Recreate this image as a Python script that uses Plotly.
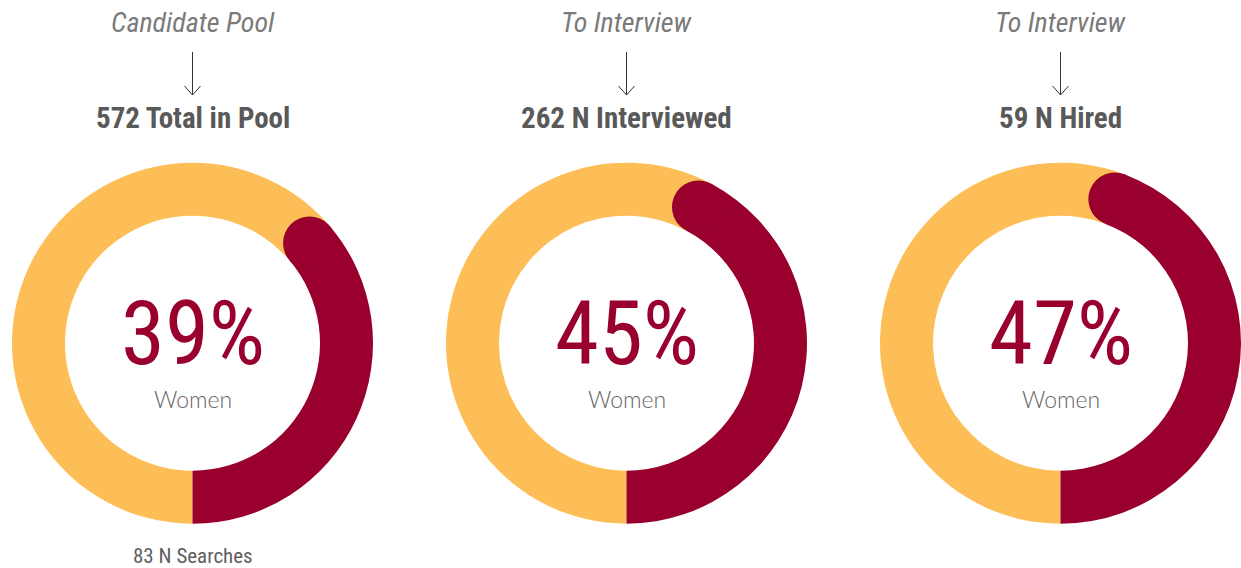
import math
import plotly.graph_objects as go

# ---- data ----
stage_titles = ["Candidate Pool", "To Interview", "To Interview"]
stage_counts = [572, 262, 59]
stage_count_labels = ["Total in Pool", "N Interviewed", "N Hired"]
women_pct = [39, 45, 47]
searches = 83

# ---- styling ----
W, H = 1241, 568
RED = "#99002E"
GOLD = "#FDBE57"
GREY_TEXT = "#5f5f5f"
NARROW = "Liberation Sans Narrow, Roboto Condensed, Roboto, sans-serif"

centers_x = [192.5, 626.5, 1060.5]
center_y = 343.2
r_outer = 180.5
r_inner = 127.5
r_mid = (r_outer + r_inner) / 2
r_cap = (r_outer - r_inner) / 2
cap_pct = math.degrees(r_cap / r_mid) / 3.6  # arc share taken by the rounded end

fig = go.Figure()
shapes = []
annotations = []

for cx, pct, title, n, nlabel in zip(centers_x, women_pct, stage_titles,
                                     stage_counts, stage_count_labels):
    # donut drawn clockwise from 6 o'clock: gold first, red last so the red
    # arc rises up the right side; its body stops where the round cap begins
    body = pct - cap_pct
    fig.add_trace(go.Pie(
        values=[100 - body, body],
        marker=dict(colors=[GOLD, RED], line=dict(width=0)),
        hole=r_inner / r_outer,
        sort=False,
        direction="clockwise",
        rotation=180,
        textinfo="none",
        hoverinfo="skip",
        showlegend=False,
        domain=dict(
            x=[(cx - r_outer) / W, (cx + r_outer) / W],
            y=[(H - center_y - r_outer) / H, (H - center_y + r_outer) / H],
        ),
    ))

    # rounded cap at the end of the red arc
    ang = math.radians(180 - body * 3.6)  # clockwise from 12 o'clock
    ex = cx + r_mid * math.sin(ang)
    ey = center_y - r_mid * math.cos(ang)
    shapes.append(dict(type="circle", xref="x", yref="y",
                       x0=ex - r_cap, x1=ex + r_cap, y0=ey - r_cap, y1=ey + r_cap,
                       fillcolor=RED, line=dict(width=0), layer="above"))

    # down arrow between stage title and count
    shapes.append(dict(type="line", xref="x", yref="y", x0=cx, x1=cx, y0=52, y1=95,
                       line=dict(color="#333333", width=1)))
    shapes.append(dict(type="path", xref="x", yref="y",
                       path=f"M {cx-8},{86} L {cx},{95} L {cx+8},{86}",
                       line=dict(color="#333333", width=1)))

    annotations += [
        dict(x=cx, y=22, text=f"<i>{title}</i>", showarrow=False,
             font=dict(family=NARROW, size=28, color="#7a7a7a")),
        dict(x=cx, y=118, text=f"<b>{n} {nlabel}</b>", showarrow=False,
             font=dict(family=NARROW, size=29, color="#595959")),
        dict(x=cx, y=333, text=f"{pct}%", showarrow=False,
             font=dict(family=NARROW, size=89, color=RED)),
        dict(x=cx, y=398.5, text="Women", showarrow=False,
             font=dict(family="Lato, Open Sans, sans-serif", size=23,
                       color="#666666", weight=300)),
    ]

annotations.append(dict(x=centers_x[0], y=556, text=f"{searches} N Searches",
                        showarrow=False,
                        font=dict(family=NARROW, size=21, color=GREY_TEXT)))

for a in annotations:
    a.update(xref="x", yref="y", xanchor="center", yanchor="middle")

fig.update_layout(
    width=W, height=H,
    margin=dict(l=0, r=0, t=0, b=0),
    paper_bgcolor="white", plot_bgcolor="white",
    xaxis=dict(range=[0, W], visible=False, fixedrange=True),
    yaxis=dict(range=[H, 0], visible=False, fixedrange=True),
    shapes=shapes,
    annotations=annotations,
)

fig.write_html("out.html")
